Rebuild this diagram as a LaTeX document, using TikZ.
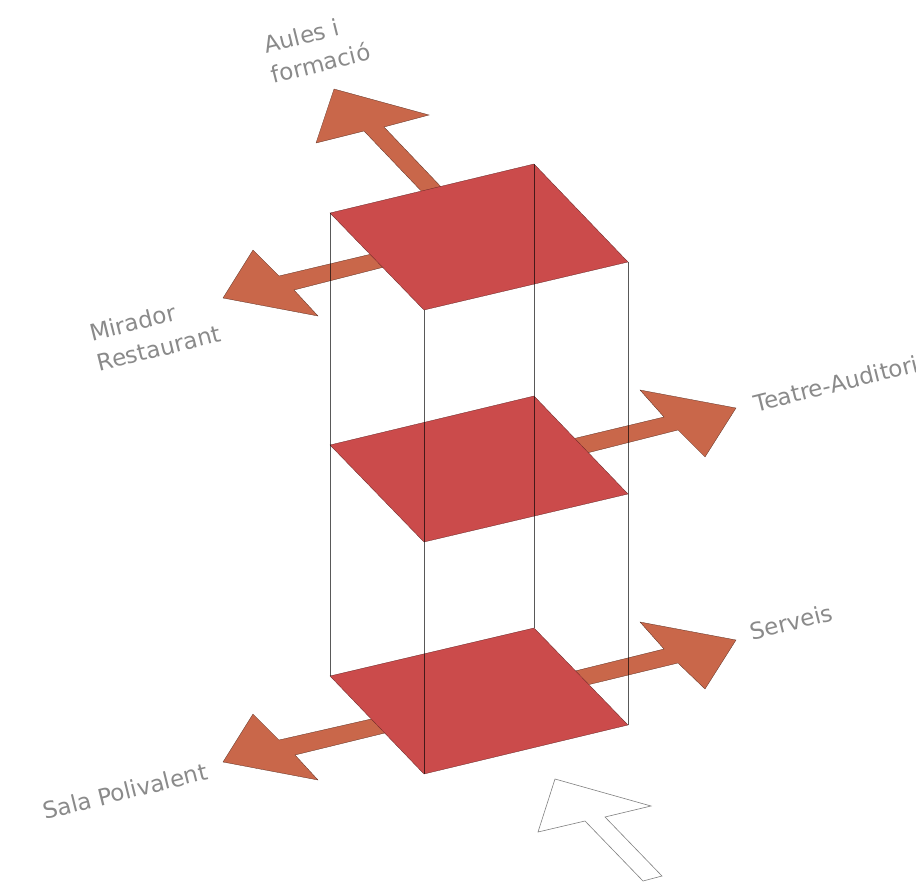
\documentclass[tikz,border=0pt]{standalone}
\usepackage{fontspec}
\setmainfont{DejaVu Sans}
\definecolor{arrowfill}{HTML}{C9674A}
\definecolor{planefill}{HTML}{CB4B4B}
\definecolor{labelgray}{HTML}{8A8A8A}
\tikzset{
  bigarrow/.style={fill=arrowfill,draw=black!55!arrowfill,line width=0.3pt,line join=miter},
  plane/.style={fill=planefill,draw=black!50!planefill,line width=0.3pt},
  edgeline/.style={draw=black,draw opacity=0.65,line width=0.7pt},
  outlinearrow/.style={draw=black!50,line width=0.6pt,fill=white},
  lab/.style={text=labelgray,font=\fontsize{23}{31}\selectfont,rotate=14,inner sep=0pt,align=left}
}
\begin{document}
\begin{tikzpicture}[x=1pt,y=-1pt]
\useasboundingbox (0,0) rectangle (916,886);
\clip (0,0) rectangle (916,886);
% arrows
\draw[bigarrow] (334,89) -- (429,115) -- (384,127) -- (444,190) -- (426,196) -- (364,131) -- (316,143) -- cycle;
\draw[bigarrow] (223,298) -- (253,250) -- (279,276) -- (380,252) -- (392,265) -- (294,290) -- (318,316) -- cycle;
\draw[bigarrow] (736,408) -- (640,390) -- (664,417) -- (568,440) -- (583,454) -- (678,430) -- (705,457) -- cycle;
\draw[bigarrow] (736,640) -- (640,622) -- (664,649) -- (567,673) -- (583,686) -- (678,663) -- (705,689) -- cycle;
\draw[bigarrow] (223,762) -- (253,714) -- (279,740) -- (380,717) -- (393,731) -- (295,755) -- (318,780) -- cycle;
% planes
\draw[plane] (330,213) -- (534,164) -- (628,262) -- (424,310) -- cycle;
\draw[plane] (330,445) -- (534,396) -- (628,494) -- (424,542) -- cycle;
\draw[plane] (330,676) -- (534,628) -- (628,725) -- (424,774) -- cycle;
% vertical edges
\draw[edgeline] (330,213) -- (330,676);
\draw[edgeline] (424,310) -- (424,774);
\draw[edgeline] (534,164) -- (534,628);
\draw[edgeline] (628,262) -- (628,725);
% entrance arrow
\draw[outlinearrow] (555,779) -- (651,806) -- (605,817) -- (662,876) -- (643,881) -- (585,821) -- (538,832) -- cycle;
% labels
\node[lab,anchor=center] (aules) at (317,48) {Aules i\\formació};
\node[lab,anchor=center] (mirador) at (155,333) {Mirador\\Restaurant};
\node[lab,anchor=west] (teatre) at (754,404) {Teatre-Auditori};
\node[lab,anchor=center] (serveis) at (791,622) {Serveis};
\node[lab,anchor=center] (sala) at (125,791) {Sala Polivalent};
\end{tikzpicture}
\end{document}
